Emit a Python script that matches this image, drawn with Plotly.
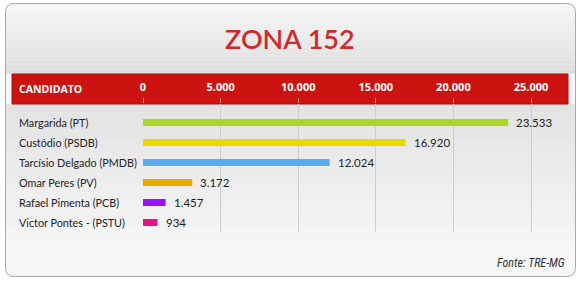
import plotly.graph_objects as go

# ---- data ----
candidatos = ["Margarida (PT)", "Custódio (PSDB)", "Tarcísio Delgado (PMDB)",
              "Omar Peres (PV)", "Rafael Pimenta (PCB)", "Victor Pontes - (PSTU)"]
votos = [23533, 16920, 12024, 3172, 1457, 934]
cores = ["#aed42a", "#ead800", "#5aacee", "#e9aa00", "#9b12ef", "#e8118a"]
tick_vals = [0, 5000, 10000, 15000, 20000, 25000]
tick_text = ["0", "5.000", "10.000", "15.000", "20.000", "25.000"]
titulo = "ZONA 152"
fonte = "Fonte: TRE-MG"

def fmt(v):
    return f"{v:,}".replace(",", ".")

W, H = 580, 284
L, R, T, B = 143, 20, 104, 52
plot_w = W - L - R
xmax = 25000 * plot_w / 388.0

fig = go.Figure()
fig.add_trace(go.Bar(
    x=votos, y=candidatos, orientation="h",
    marker=dict(color=cores, line=dict(width=0)),
    width=0.35, hoverinfo="skip",
))

shapes = []
def px_x(x):
    return (x - L) / plot_w
def px_y(y):
    return 1 - (y - T) / (H - T - B)

# rounded panel
x0, x1, y0, y1, r = 5.5, 575.5, 3.5, 276.5, 9
path = (f"M {px_x(x0+r)},{px_y(y0)} L {px_x(x1-r)},{px_y(y0)} "
        f"Q {px_x(x1)},{px_y(y0)} {px_x(x1)},{px_y(y0+r)} "
        f"L {px_x(x1)},{px_y(y1-r)} Q {px_x(x1)},{px_y(y1)} {px_x(x1-r)},{px_y(y1)} "
        f"L {px_x(x0+r)},{px_y(y1)} Q {px_x(x0)},{px_y(y1)} {px_x(x0)},{px_y(y1-r)} "
        f"L {px_x(x0)},{px_y(y0+r)} Q {px_x(x0)},{px_y(y0)} {px_x(x0+r)},{px_y(y0)} Z")
shapes.append(dict(type="path", xref="paper", yref="paper", path=path,
                   fillcolor="#f6f6f6", line=dict(color="#a8a8a8", width=1), layer="below"))

def lerp(c1, c2, t):
    a = [int(c1[i:i+2], 16) for i in (1, 3, 5)]
    b = [int(c2[i:i+2], 16) for i in (1, 3, 5)]
    return "#" + "".join(f"{round(a[k] + (b[k]-a[k])*t):02x}" for k in range(3))

n = 14
ya, yb = 12, 74
for i in range(n):
    t0 = ya + (yb - ya) * i / n
    t1 = ya + (yb - ya) * (i + 1) / n
    shapes.append(dict(type="rect", xref="paper", yref="paper", layer="below",
                       x0=px_x(6), x1=px_x(575), y0=px_y(t1), y1=px_y(t0),
                       fillcolor=lerp("#f4f4f4", "#dedede", (i + 0.5) / n), line=dict(width=0)))
n = 18
ya, yb = 104, 262
for i in range(n):
    t0 = ya + (yb - ya) * i / n
    t1 = ya + (yb - ya) * (i + 1) / n
    shapes.append(dict(type="rect", xref="paper", yref="paper", layer="below",
                       x0=px_x(6), x1=px_x(575), y0=px_y(t1), y1=px_y(t0),
                       fillcolor=lerp("#e2e2e2", "#f8f8f8", (i + 0.5) / n), line=dict(width=0)))
shapes.append(dict(type="rect", xref="paper", yref="paper", layer="below",
                   x0=px_x(12), x1=px_x(568), y0=px_y(104), y1=px_y(74),
                   fillcolor="#cd130f", line=dict(color="#a81010", width=1)))

annotations = []
for c, v in zip(candidatos, votos):
    annotations.append(dict(x=v, y=c, xref="x", yref="y", text=fmt(v), showarrow=False,
                            xanchor="left", xshift=6,
                            font=dict(family="Lato, sans-serif", size=11.5, color="#222222")))
    annotations.append(dict(x=px_x(17), y=c, xref="paper", yref="y", text=c, showarrow=False,
                            xanchor="left",
                            font=dict(family="Lato, sans-serif", size=10.8, color="#222222")))
annotations.append(dict(x=px_x(17), y=px_y(89), xref="paper", yref="paper", text="CANDIDATO",
                        showarrow=False, xanchor="left", yanchor="middle",
                        font=dict(family="Open Sans, sans-serif", size=10.5, color="white", weight="bold")))
annotations.append(dict(x=px_x(290), y=px_y(38), xref="paper", yref="paper", text=titulo,
                        showarrow=False, xanchor="center", yanchor="middle",
                        font=dict(family="Lato, sans-serif", size=27, color="#d0282b", weight=600)))
annotations.append(dict(x=px_x(567), y=px_y(263), xref="paper", yref="paper", text=fonte,
                        showarrow=False, xanchor="right", yanchor="middle",
                        font=dict(family="Liberation Sans Narrow, Roboto Condensed, sans-serif",
                                  size=12, color="#333333", style="italic")))

fig.update_layout(
    width=W, height=H, margin=dict(l=L, r=R, t=T, b=B),
    paper_bgcolor="white", plot_bgcolor="rgba(0,0,0,0)",
    showlegend=False, shapes=shapes, annotations=annotations,
)
fig.update_xaxes(range=[0, xmax], side="top", tickvals=tick_vals, ticktext=tick_text,
                 showgrid=True, gridcolor="#cdcdcd", gridwidth=1, zeroline=False,
                 ticks="outside", ticklen=5, tickcolor="#e89090", showline=False,
                 tickfont=dict(family="Open Sans, sans-serif", size=11, color="white", weight="bold"),
                 ticklabelstandoff=3)
fig.update_yaxes(range=[5.475, -0.925], showticklabels=False, showgrid=False, zeroline=False,
                 categoryorder="array", categoryarray=candidatos)

fig.write_html("out.html")
